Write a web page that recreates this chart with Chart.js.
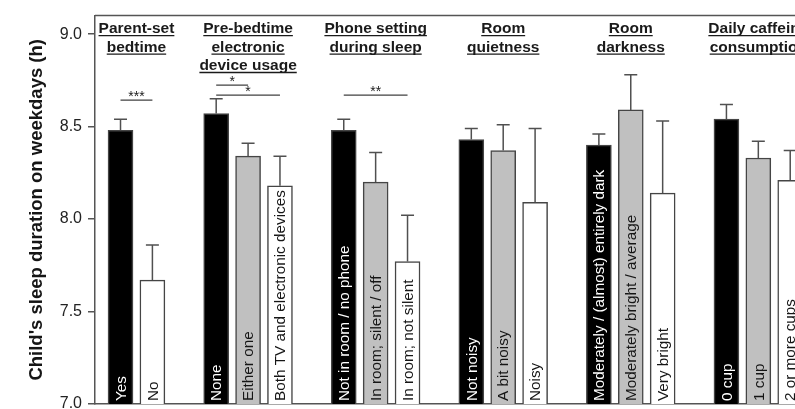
<!DOCTYPE html>
<html>
<head>
<meta charset="utf-8">
<script src="https://cdn.jsdelivr.net/npm/chart.js@4/dist/chart.umd.min.js"></script>
<style>
  html, body { margin: 0; padding: 0; overflow: hidden; background: #ffffff; }
  canvas { display: block; }
</style>
</head>
<body>
<canvas id="sleep" width="854" height="440"></canvas>
<script>
// Factor groups (panel headings, one entry per line)
const groupTitles = [
  ["Parent-set", "bedtime"],
  ["Pre-bedtime", "electronic", "device usage"],
  ["Phone setting", "during sleep"],
  ["Room", "quietness"],
  ["Room", "darkness"],
  ["Daily caffeine", "consumption"]
];

// Response categories within each group
const categories = [
  ["Yes", "No"],
  ["None", "Either one", "Both TV and electronic devices"],
  ["Not in room / no phone", "In room; silent / off", "In room; not silent"],
  ["Not noisy", "A bit noisy", "Noisy"],
  ["Moderately / (almost) entirely dark", "Moderately bright / average", "Very bright"],
  ["0 cup", "1 cup", "2 or more cups"]
];

// Mean weekday sleep duration (h)
const sleepMeans = [
  [8.48, 7.67],
  [8.57, 8.34, 8.18],
  [8.48, 8.20, 7.77],
  [8.43, 8.37, 8.09],
  [8.40, 8.59, 8.14],
  [8.54, 8.33, 8.21]
];

// Standard errors (upper whisker)
const sleepSE = [
  [0.06, 0.19],
  [0.08, 0.07, 0.16],
  [0.06, 0.16, 0.25],
  [0.06, 0.14, 0.40],
  [0.06, 0.19, 0.39],
  [0.08, 0.09, 0.16]
];

// Pairwise significance marks: group, bar indices, bracket level (h), label
const comparisons = [
  { group: 0, from: 0, to: 1, level: 8.643, label: "***" },
  { group: 1, from: 0, to: 1, level: 8.724, label: "*" },
  { group: 1, from: 0, to: 2, level: 8.670, label: "*" },
  { group: 2, from: 0, to: 2, level: 8.670, label: "**" }
];

const yTicks = [7.0, 7.5, 8.0, 8.5, 9.0];
const yTitle = "Child's sleep duration on weekdays (h)";

// Reference level black, last level white, middle level grey
const FILL_FIRST = "#000000", FILL_MID = "#c0c0c0", FILL_LAST = "#ffffff";

// Flatten groups onto a continuous axis, leaving one empty slot between groups
const points = [], barFill = [], barText = [], barTextInk = [], barSE = [];
const groupSlots = [];
let slot = 0;
categories.forEach((cats, g) => {
  const slots = [];
  cats.forEach((c, i) => {
    const first = i === 0, last = i === cats.length - 1;
    points.push({ x: slot, y: sleepMeans[g][i] });
    barFill.push(first ? FILL_FIRST : (last ? FILL_LAST : FILL_MID));
    barText.push(c);
    barTextInk.push(first ? "#ffffff" : "#151515");
    barSE.push(sleepSE[g][i]);
    slots.push(slot);
    slot += 1;
  });
  groupSlots.push(slots);
  slot += 1;
});

const FONT = "'Liberation Sans', Arial, sans-serif";

const decorations = {
  id: "decorations",
  afterDatasetsDraw(chart) {
    const ctx = chart.ctx;
    const xs = chart.scales.x, ys = chart.scales.y;
    const area = chart.chartArea;
    const bars = chart.getDatasetMeta(0).data;

    ctx.save();

    // upper error whiskers
    ctx.strokeStyle = "#505050";
    ctx.lineWidth = 1.5;
    bars.forEach((el, i) => {
      const x = xs.getPixelForValue(points[i].x);
      const yBar = ys.getPixelForValue(points[i].y);
      const top = ys.getPixelForValue(points[i].y + barSE[i]);
      ctx.beginPath();
      ctx.moveTo(x, yBar);
      ctx.lineTo(x, top);
      ctx.moveTo(x - 6.5, top);
      ctx.lineTo(x + 6.5, top);
      ctx.stroke();
    });

    // category names written up the inside of each bar
    ctx.font = "15.3px " + FONT;
    ctx.textAlign = "left";
    ctx.textBaseline = "middle";
    points.forEach((p, i) => {
      const x = xs.getPixelForValue(p.x);
      ctx.save();
      ctx.translate(x + 1, area.bottom - 3);
      ctx.rotate(-Math.PI / 2);
      ctx.fillStyle = barTextInk[i];
      ctx.fillText(barText[i], 0, 0);
      ctx.restore();
    });

    // significance brackets
    comparisons.forEach(c => {
      const s = groupSlots[c.group];
      const x1 = xs.getPixelForValue(s[c.from]);
      const x2 = xs.getPixelForValue(s[c.to]);
      const y = ys.getPixelForValue(c.level);
      ctx.strokeStyle = "#404040";
      ctx.lineWidth = 1.3;
      ctx.beginPath();
      ctx.moveTo(x1, y);
      ctx.lineTo(x2, y);
      ctx.stroke();
      ctx.fillStyle = "#1a1a1a";
      ctx.font = "14px " + FONT;
      ctx.textAlign = "center";
      ctx.textBaseline = "alphabetic";
      ctx.fillText(c.label, (x1 + x2) / 2, y + 0.5);
    });

    // underlined group headings
    ctx.font = "bold 15.5px " + FONT;
    ctx.textAlign = "center";
    ctx.textBaseline = "alphabetic";
    ctx.fillStyle = "#1a1a1a";
    ctx.strokeStyle = "#1a1a1a";
    ctx.lineWidth = 1.3;
    groupTitles.forEach((lines, g) => {
      const s = groupSlots[g];
      const cx = (xs.getPixelForValue(s[0]) + xs.getPixelForValue(s[s.length - 1])) / 2;
      lines.forEach((t, k) => {
        const base = area.top + 17.5 + k * 18.4;
        ctx.fillText(t, cx, base);
        const w = ctx.measureText(t).width;
        ctx.beginPath();
        ctx.moveTo(cx - w / 2, base + 2.6);
        ctx.lineTo(cx + w / 2, base + 2.6);
        ctx.stroke();
      });
    });

    // top frame line
    ctx.strokeStyle = "#555555";
    ctx.lineWidth = 1.5;
    ctx.beginPath();
    ctx.moveTo(area.left, area.top);
    ctx.lineTo(area.right, area.top);
    ctx.stroke();

    ctx.restore();
  }
};

new Chart(document.getElementById("sleep"), {
  type: "bar",
  data: {
    datasets: [{
      data: points,
      backgroundColor: barFill,
      borderColor: "#454545",
      borderWidth: 1.5,
      barThickness: 25
    }]
  },
  options: {
    responsive: false,
    animation: false,
    events: [],
    layout: { padding: { top: 13, left: 0, right: 0, bottom: 0 } },
    plugins: { legend: { display: false }, tooltip: { enabled: false } },
    scales: {
      x: {
        type: "linear",
        min: -0.8,
        max: 23,
        offset: false,
        grid: { display: false },
        ticks: { display: false },
        border: { display: true, color: "#555555", width: 1.5 },
        afterFit(scale) { scale.height = 36; }
      },
      y: {
        min: 7,
        max: 9.1,
        afterBuildTicks(scale) { scale.ticks = yTicks.map(v => ({ value: v })); },
        ticks: {
          callback: v => Number(v).toFixed(1),
          font: { family: FONT, size: 16 },
          color: "#222222",
          padding: 6
        },
        grid: { drawOnChartArea: false, drawTicks: true, tickLength: 7, color: "#555555", lineWidth: 1.5 },
        border: { display: true, color: "#555555", width: 1.5 },
        title: {
          display: true,
          text: yTitle,
          color: "#151515",
          font: { family: FONT, size: 18.5, weight: "bold" },
          padding: { top: 26, bottom: 0 }
        },
        afterFit(scale) { scale.width = 95; }
      }
    }
  },
  plugins: [decorations]
});
</script>
</body>
</html>
